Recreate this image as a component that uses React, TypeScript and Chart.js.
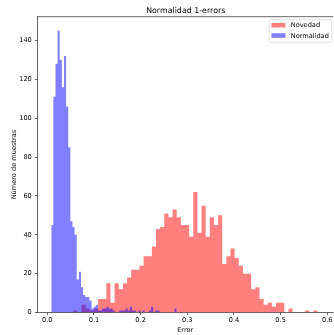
import React, { useEffect, useRef } from "react";
import { Chart, registerables } from "chart.js";

Chart.register(...registerables);

const chartTitle = "Normalidad 1-errors";
const xLabel = "Error";
const yLabel = "Número de muestras";
const seriesNames = ["Novedad", "Normalidad"];

// Novedad histogram (60 bins)
const novedadBinStart = 0.0556;
const novedadBinWidth = 0.00887;
const novedadCounts = [
  2, 1, 0, 4, 2, 1, 2, 7, 7, 15,
  5, 15, 12, 15, 18, 22, 22, 24, 29, 29,
  34, 43, 44, 51, 49, 53, 49, 45, 45, 39,
  62, 41, 55, 39, 49, 45, 50, 25, 29, 33,
  28, 24, 20, 20, 12, 13, 7, 4, 5, 3,
  5, 5, 0, 2, 0, 0, 0, 1, 0, 1,
];

// Normalidad histogram (60 bins)
const normalidadBinStart = 0.0085;
const normalidadBinWidth = 0.00455;
const normalidadCounts = [
  13, 45, 111, 128, 145, 130, 116, 132, 106, 85,
  47, 44, 40, 17, 21, 13, 9, 8, 8, 6,
  2, 3, 4, 1, 1, 2, 2, 3, 2, 2,
  1, 0, 0, 1, 1, 1, 2, 1, 3, 1,
  1, 0, 1, 0, 1, 0, 0, 1, 3, 0,
  1, 1, 0, 0, 0, 0, 0, 0, 0, 2,
];

const xTicks = [0, 0.1, 0.2, 0.3, 0.4, 0.5, 0.6];
const yTicks = [0, 20, 40, 60, 80, 100, 120, 140];
const xMin = -0.0214;
const xMax = 0.6126;
const yMin = 0;
const yMax = 152.25;

const seriesColors = ["rgba(255,0,0,0.5)", "rgba(0,0,255,0.5)"];
const FONT = "DejaVu Sans";

function stepPoints(start: number, width: number, counts: number[]) {
  const pts = counts.map((c, i) => ({ x: start + i * width, y: c }));
  pts.push({ x: start + counts.length * width, y: 0 });
  return pts;
}

const decorPlugin = {
  id: "decor",
  afterDraw(chart: any) {
    const { ctx, chartArea } = chart;
    ctx.save();
    // top spine
    ctx.strokeStyle = "#000";
    ctx.lineWidth = 0.6;
    ctx.beginPath();
    ctx.moveTo(chartArea.left, chartArea.top);
    ctx.lineTo(chartArea.right, chartArea.top);
    ctx.stroke();

    // title
    ctx.fillStyle = "#000";
    ctx.font = `7.9px "${FONT}"`;
    ctx.textAlign = "center";
    ctx.textBaseline = "alphabetic";
    ctx.fillText(chartTitle, (chartArea.left + chartArea.right) / 2 + 0.5, chartArea.top - 3.9);

    // legend
    ctx.font = `6.6px "${FONT}"`;
    const textW = Math.max(...seriesNames.map((n) => ctx.measureText(n).width));
    const frameRight = chartArea.right - 1.5;
    const frameW = 2.4 + 14 + 5.3 + textW + 2.6;
    const frameLeft = frameRight - frameW;
    const frameTop = chartArea.top + 3;
    const frameH = 22.5;
    const r = 1.5;
    ctx.beginPath();
    ctx.moveTo(frameLeft + r, frameTop);
    ctx.lineTo(frameRight - r, frameTop);
    ctx.quadraticCurveTo(frameRight, frameTop, frameRight, frameTop + r);
    ctx.lineTo(frameRight, frameTop + frameH - r);
    ctx.quadraticCurveTo(frameRight, frameTop + frameH, frameRight - r, frameTop + frameH);
    ctx.lineTo(frameLeft + r, frameTop + frameH);
    ctx.quadraticCurveTo(frameLeft, frameTop + frameH, frameLeft, frameTop + frameH - r);
    ctx.lineTo(frameLeft, frameTop + r);
    ctx.quadraticCurveTo(frameLeft, frameTop, frameLeft + r, frameTop);
    ctx.closePath();
    ctx.fillStyle = "rgba(255,255,255,0.8)";
    ctx.fill();
    ctx.strokeStyle = "#cccccc";
    ctx.lineWidth = 0.6;
    ctx.stroke();

    seriesNames.forEach((name, i) => {
      const cy = frameTop + 5.5 + i * 10.3;
      ctx.fillStyle = seriesColors[i];
      ctx.fillRect(frameLeft + 2.2, cy - 2.3, 14, 4.6);
      ctx.fillStyle = "#000";
      ctx.textAlign = "left";
      ctx.textBaseline = "middle";
      ctx.fillText(name, frameLeft + 2.2 + 14 + 5.3, cy + 0.3);
    });
    ctx.restore();
  },
};

export default function App() {
  const canvasRef = useRef<HTMLCanvasElement | null>(null);

  useEffect(() => {
    if (!canvasRef.current) return;
    const tickFont = { family: FONT, size: 6.6 };
    const chart = new Chart(canvasRef.current, {
      type: "line",
      data: {
        datasets: [
          {
            label: seriesNames[0],
            data: stepPoints(novedadBinStart, novedadBinWidth, novedadCounts),
            stepped: "after",
            fill: "origin",
            backgroundColor: seriesColors[0],
            borderColor: "rgba(0,0,0,0)",
            borderWidth: 0,
            pointRadius: 0,
            order: 2,
          },
          {
            label: seriesNames[1],
            data: stepPoints(normalidadBinStart, normalidadBinWidth, normalidadCounts),
            stepped: "after",
            fill: "origin",
            backgroundColor: seriesColors[1],
            borderColor: "rgba(0,0,0,0)",
            borderWidth: 0,
            pointRadius: 0,
            order: 1,
          },
        ],
      },
      options: {
        responsive: false,
        animation: false,
        events: [],
        layout: { padding: { top: 16.7, right: 0, bottom: 0, left: 0 } },
        plugins: {
          legend: { display: false },
          title: { display: false },
          tooltip: { enabled: false },
        },
        scales: {
          x: {
            type: "linear",
            min: xMin,
            max: xMax,
            afterFit: (s: any) => {
              s.height = 22.5;
            },
            afterBuildTicks: (s: any) => {
              s.ticks = xTicks.map((v) => ({ value: v }));
            },
            ticks: {
              autoSkip: false,
              maxRotation: 0,
              padding: 1.5,
              font: tickFont,
              color: "#000",
              callback: (v: any) => Number(v).toFixed(1),
            },
            grid: {
              display: true,
              drawOnChartArea: false,
              drawTicks: true,
              tickLength: 2.5,
              color: "#000",
              lineWidth: 0.6,
            },
            border: { display: true, color: "#000", width: 0.6 },
            title: {
              display: true,
              text: xLabel,
              font: tickFont,
              color: "#000",
              padding: { top: 0, bottom: 1.2 },
            },
          },
          y: {
            type: "linear",
            min: yMin,
            max: yMax,
            afterFit: (s: any) => {
              s.width = 37.3;
            },
            afterBuildTicks: (s: any) => {
              s.ticks = yTicks.map((v) => ({ value: v }));
            },
            ticks: {
              autoSkip: false,
              padding: 3,
              font: tickFont,
              color: "#000",
              callback: (v: any) => String(v),
            },
            grid: {
              display: true,
              drawOnChartArea: false,
              drawTicks: true,
              tickLength: 2.5,
              color: "#000",
              lineWidth: 0.6,
            },
            border: { display: true, color: "#000", width: 0.6 },
            title: {
              display: true,
              text: yLabel,
              font: tickFont,
              color: "#000",
              padding: { top: 10, bottom: 0 },
            },
          },
        },
      },
      plugins: [decorPlugin],
    } as any);
    return () => chart.destroy();
  }, []);

  return (
    <div style={{ position: "fixed", left: 0, top: 0, width: 334, height: 335, background: "#fff" }}>
      <canvas ref={canvasRef} width={334} height={335} style={{ display: "block", width: 334, height: 335 }} />
    </div>
  );
}
